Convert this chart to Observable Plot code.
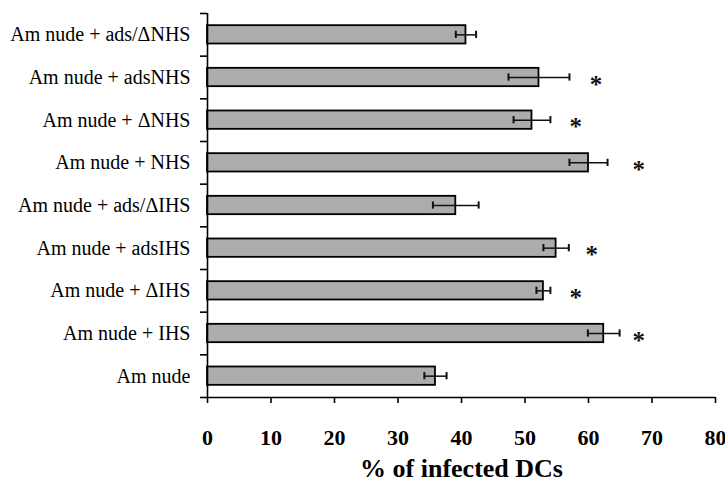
<!DOCTYPE html>
<html>
<head>
<meta charset="utf-8">
<script src="https://cdn.jsdelivr.net/npm/d3@7"></script>
<script src="https://cdn.jsdelivr.net/npm/@observablehq/plot@0.6"></script>
<style>
  html, body { margin: 0; padding: 0; background: #fff; }
  #chart svg { display: block; }
</style>
</head>
<body>
<div id="chart"></div>
<script>
// Categories listed bottom (index 0) to top
const categories = [
  "Am nude",
  "Am nude + IHS",
  "Am nude + \u0394IHS",
  "Am nude + adsIHS",
  "Am nude + ads/\u0394IHS",
  "Am nude + NHS",
  "Am nude + \u0394NHS",
  "Am nude + adsNHS",
  "Am nude + ads/\u0394NHS"
];
const values = [35.9, 62.4, 52.9, 54.9, 39.1, 60.0, 51.1, 52.2, 40.7];
const errors = [1.75, 2.5, 1.1, 2.0, 3.6, 3.0, 2.9, 4.8, 1.6];
const starX  = [null, 67.9, 58.0, 60.5, null, 67.9, 58.0, 61.2, null];
const xTicks = [0, 10, 20, 30, 40, 50, 60, 70, 80];
const xLabel = "% of infected DCs";

const rows = categories.map((c, i) => ({
  i, c, v: values[i], lo: values[i] - errors[i], hi: values[i] + errors[i], s: starX[i]
}));
const stars = rows.filter(d => d.s != null);
const boundaries = d3.range(categories.length + 1).map(k => k - 0.5);
const half = 0.215;
const cap = 0.085;

const chart = Plot.plot({
  width: 725,
  height: 489,
  marginLeft: 207,
  marginRight: 10,
  marginTop: 13,
  marginBottom: 92,
  style: { fontFamily: "'Liberation Serif', 'Times New Roman', serif", color: "#000", background: "#fff" },
  x: { domain: [0, 80] },
  y: { domain: [-0.5, categories.length - 0.5] },
  marks: [
    Plot.rectX(rows, {
      x1: 0, x2: "v",
      y1: d => d.i - half, y2: d => d.i + half,
      fill: "#acacac", stroke: "#000", strokeWidth: 1.8
    }),
    Plot.ruleY(rows, { y: "i", x1: "lo", x2: "hi", stroke: "#111", strokeWidth: 1.5 }),
    Plot.ruleX(rows, { x: "lo", y1: d => d.i - cap, y2: d => d.i + cap, stroke: "#111", strokeWidth: 2 }),
    Plot.ruleX(rows, { x: "hi", y1: d => d.i - cap, y2: d => d.i + cap, stroke: "#111", strokeWidth: 2 }),
    Plot.text(stars, { x: "s", y: "i", text: () => "*", fontSize: 25, fontWeight: "bold", dy: 7, fill: "#111" }),
    Plot.ruleX([0], { stroke: "#000", strokeWidth: 1.6 }),
    Plot.ruleY([-0.5], { stroke: "#000", strokeWidth: 1.6 }),
    Plot.axisY({
      ticks: rows.map(d => d.i),
      tickFormat: i => categories[i],
      tickSize: 0, tickPadding: 17,
      fontSize: 20, label: null
    }),
    Plot.axisY({
      ticks: boundaries, tickFormat: () => "",
      tickSize: 7, strokeWidth: 1.6, label: null
    }),
    Plot.axisX({
      ticks: xTicks, tickFormat: d => String(d),
      tickSize: 6, tickPadding: 26, strokeWidth: 1.6,
      fontSize: 22, fontWeight: "bold", label: null
    }),
    Plot.text([xLabel], {
      frameAnchor: "bottom", text: d => d, dy: 79,
      fontSize: 26, fontWeight: "bold", fill: "#000"
    })
  ]
});
document.getElementById("chart").appendChild(chart);
</script>
</body>
</html>
